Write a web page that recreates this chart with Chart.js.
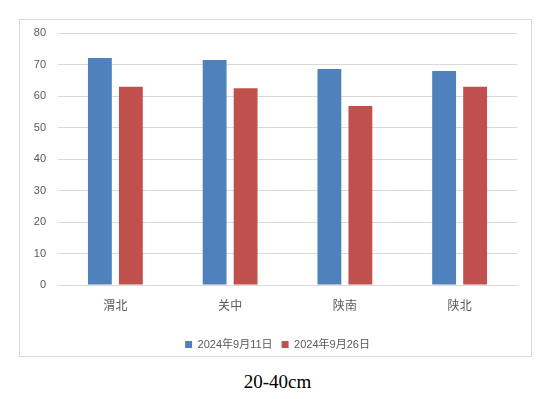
<!DOCTYPE html>
<html><head><meta charset="utf-8">
<script src="https://cdn.jsdelivr.net/npm/chart.js@4.4.1/dist/chart.umd.min.js"></script>
<style>
html,body{margin:0;padding:0;background:#fff;width:555px;height:399px;overflow:hidden;}
#box{position:absolute;left:19px;top:19px;width:511px;height:336px;border:1px solid #d9d9d9;}
#title{position:absolute;left:0;width:555px;top:371px;text-align:center;font-family:"Liberation Serif","Times New Roman",serif;font-size:19px;color:#000;}
</style></head>
<body>
<div id="box"><canvas id="c" width="511" height="336"></canvas></div>
<div id="title">20-40cm</div>
<script>
const categories = ["渭北", "关中", "陕南", "陕北"];
const seriesNames = ["2024年9月11日", "2024年9月26日"];
const series1 = [72.1, 71.4, 68.6, 67.9];
const series2 = [62.9, 62.5, 56.8, 62.9];
const yTicks = [0, 10, 20, 30, 40, 50, 60, 70, 80];

const fam = '"Liberation Sans","Noto Sans CJK SC",sans-serif';
new Chart(document.getElementById('c'), {
  type: 'bar',
  data: {
    labels: categories,
    datasets: [
      {label: seriesNames[0], data: series1, backgroundColor: '#4F81BD', categoryPercentage: 0.54, barPercentage: 0.77},
      {label: seriesNames[1], data: series2, backgroundColor: '#C0504D', categoryPercentage: 0.54, barPercentage: 0.77}
    ]
  },
  options: {
    responsive: false,
    animation: false,
    layout: {padding: {top: 13, right: 0, left: 4, bottom: -4}},
    plugins: {
      legend: {
        position: 'bottom',
        labels: {boxWidth: 7, boxHeight: 7, color: '#595959', font: {family: fam, size: 11}, padding: 9}
      },
      tooltip: {enabled: false}
    },
    scales: {
      x: {
        grid: {display: false, drawTicks: false},
        border: {color: '#d9d9d9'},
        ticks: {color: '#595959', font: {family: fam, size: 12}, padding: 14},
        afterFit: s => { s.height = 45; }
      },
      y: {
        min: 0, max: 80,
        afterBuildTicks: s => { s.ticks = yTicks.map(v => ({value: v})); },
        grid: {color: '#d9d9d9', drawTicks: false},
        border: {display: false},
        ticks: {color: '#595959', font: {family: fam, size: 11}, padding: 12},
        afterFit: s => { s.width = 34; s.paddingTop = 0; s.paddingBottom = 0; }
      },
      yr: {
        position: 'right',
        min: 0, max: 80,
        grid: {display: false, drawTicks: false},
        border: {display: false},
        ticks: {display: false},
        afterFit: s => { s.width = 14; s.paddingTop = 0; s.paddingBottom = 0; }
      }
    }
  }
});
</script>
</body></html>
